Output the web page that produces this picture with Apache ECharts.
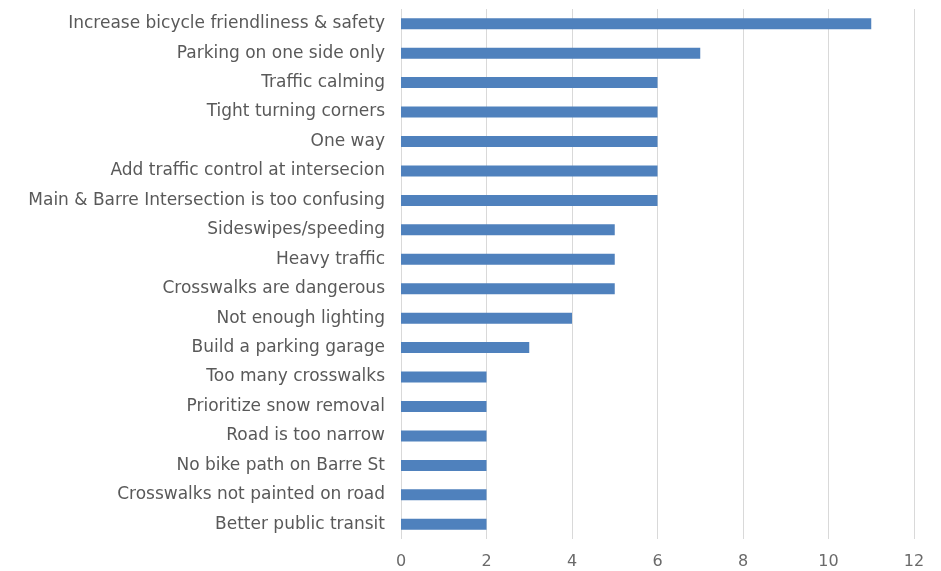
<!DOCTYPE html>
<html><head><meta charset="utf-8">
<script src="https://cdn.jsdelivr.net/npm/echarts@6/dist/echarts.min.js"></script>
<style>html,body{margin:0;padding:0;background:#fff}#c{width:941px;height:571px}</style>
</head><body><div id="c"></div>
<script>
const categories = [
  "Increase bicycle friendliness & safety",
  "Parking on one side only",
  "Traffic calming",
  "Tight turning corners",
  "One way",
  "Add traffic control at intersecion",
  "Main & Barre Intersection is too confusing",
  "Sideswipes/speeding",
  "Heavy traffic",
  "Crosswalks are dangerous",
  "Not enough lighting",
  "Build a parking garage",
  "Too many crosswalks",
  "Prioritize snow removal",
  "Road is too narrow",
  "No bike path on Barre St",
  "Crosswalks not painted on road",
  "Better public transit"
];
const values = [11, 7, 6, 6, 6, 6, 6, 5, 5, 5, 4, 3, 2, 2, 2, 2, 2, 2];
const xTicks = { min: 0, max: 12, interval: 2 };

const chart = echarts.init(document.getElementById('c'), null, { renderer: 'canvas' });
chart.setOption({
  animation: false,
  grid: { left: 401, right: 27, top: 9, bottom: 32, containLabel: false },
  xAxis: {
    type: 'value', min: xTicks.min, max: xTicks.max, interval: xTicks.interval,
    axisLine: { show: false }, axisTick: { show: false },
    splitLine: { show: true, lineStyle: { color: '#d9d9d9', width: 1 } },
    axisLabel: { color: '#6a6a6a', fontFamily: 'DejaVu Sans', fontSize: 16, margin: 15 }
  },
  yAxis: {
    type: 'category', data: categories, inverse: true,
    axisLine: { show: false }, axisTick: { show: false },
    axisLabel: { color: '#595959', fontFamily: 'DejaVu Sans', fontSize: 17, margin: 16 }
  },
  series: [{
    type: 'bar', data: values, barWidth: 11,
    itemStyle: { color: '#4f81bd' }
  }]
});
</script></body></html>
